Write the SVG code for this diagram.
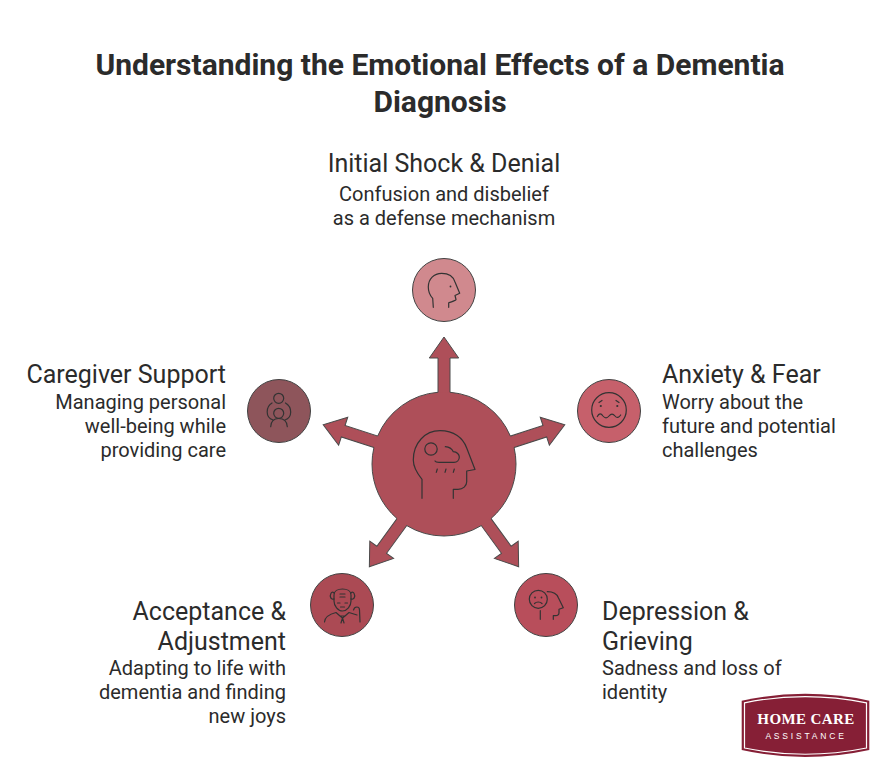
<svg xmlns="http://www.w3.org/2000/svg" width="888" height="777" viewBox="0 0 888 777">
<style>
text{font-family:Roboto,"Liberation Sans",sans-serif;fill:#2b2b2b}
.t{font-size:30px;font-weight:700;text-anchor:middle}
.h{font-size:25px}
.b{font-size:20px}
.m{text-anchor:middle}
.e{text-anchor:end}
.d{stroke:#424242;stroke-width:1}
.i{fill:none;stroke:#333;stroke-width:1.2;stroke-linecap:round;stroke-linejoin:round}
.a{fill:#ae4f59;stroke:#4a4a4a;stroke-width:1}
</style>
<defs><path id="arrow" d="M-6-66V-106H-14.7L0-127 14.7-106H6V-66Z"/></defs>
<rect width="888" height="777" fill="#fff"/>
<text class="t" x="440" y="75">Understanding the Emotional Effects of a Dementia</text>
<text class="t" x="440" y="112">Diagnosis</text>
<g id="connectors">
<use href="#arrow" class="a" transform="translate(444 464)"/>
<use href="#arrow" class="a" transform="translate(444 464) rotate(72)"/>
<use href="#arrow" class="a" transform="translate(444 464) rotate(144)"/>
<use href="#arrow" class="a" transform="translate(444 464) rotate(216)"/>
<use href="#arrow" class="a" transform="translate(444 464) rotate(288)"/>
</g>
<g id="center">
<circle cx="444" cy="464" r="72" fill="#ae4f59"/>
<circle cx="444" cy="464" r="72" fill="none" stroke="#4a4a4a" pathLength="360" stroke-dasharray="62.44 9.56" stroke-dashoffset="85.22"/>
<path class="i" d="M422 498.3V479.3C416 472 413.3 467 413.3 460C413.3 443 425 430.7 440 430.7C454 430.7 463 438 466.7 448L475 469.5L466.7 471V481.7C466.7 486 463 489.3 458 489.3H453.3V498.3"/>
<circle class="i" cx="431" cy="449" r="6.2"/>
<path class="i" d="M445.3 446.7C449 447 452 449 453.3 451.7C457 452 459.3 454.5 459.3 457C459.3 460 457 462.3 454 462.3H439C437 462.3 435.5 462 435 461"/>
<path class="i" d="M437.3 469L436.3 472.3M446 469L445 472.3M454.3 469L453.3 472.3"/>
</g>
<g id="node-shock">
<circle class="d" cx="444" cy="290" r="31.5" fill="#d0898e"/>
<path class="i" d="M433.3 307.3L432.7 298.3C429.5 295 428.3 291 428.3 287C428.3 279 434 273.3 441.7 273.3C449 273.3 453.5 277 455 282L459.7 293.3L455 295.5L456 299.5C455.5 301 452 301.5 448.7 302.7V307.3"/>
<circle cx="450.5" cy="286.5" r=".9" fill="#333"/>
<text class="h m" x="444" y="172">Initial Shock &amp; Denial</text>
<text class="b m" x="444" y="201">Confusion and disbelief</text>
<text class="b m" x="444" y="225">as a defense mechanism</text>
</g>
<g id="node-anxiety">
<circle class="d" cx="609" cy="411" r="31.5" fill="#c6606b"/>
<circle class="i" cx="609" cy="410" r="17.3"/>
<circle cx="600.8" cy="406" r="1.1" fill="#333"/>
<circle cx="617.3" cy="406" r="1.1" fill="#333"/>
<path class="i" d="M599 402.5L602 400.5M619 402.5L616 400.5"/>
<path class="i" d="M597.3 416.5C599 413 601 413 603 416C605 418.5 607 418.5 609 416C611 413.5 613 413.5 615 416C617 418.5 619 417.5 620.7 415"/>
<text class="h" x="662" y="383">Anxiety &amp; Fear</text>
<text class="b" x="662" y="409">Worry about the</text>
<text class="b" x="662" y="433">future and potential</text>
<text class="b" x="662" y="457">challenges</text>
</g>
<g id="node-depression">
<circle class="d" cx="546" cy="605" r="31.5" fill="#b84e5b"/>
<circle class="i" cx="538.3" cy="599.3" r="9"/>
<circle cx="535" cy="597.5" r=".9" fill="#333"/>
<circle cx="541.5" cy="597.5" r=".9" fill="#333"/>
<path class="i" d="M534.5 603.5C536.5 601.5 540 601.5 542 603.5"/>
<path class="i" d="M547.3 591.7C553 591.7 557 594 558.5 598L563.3 607.7L559 609.3V612.5C559 614.5 557.5 615.7 555.5 615.7H553.3V619.3M540.3 610.7V619.3"/>
<text class="h" x="602" y="620">Depression &amp;</text>
<text class="h" x="602" y="650">Grieving</text>
<text class="b" x="602" y="675">Sadness and loss of</text>
<text class="b" x="602" y="699">identity</text>
</g>
<g id="node-acceptance">
<circle class="d" cx="342" cy="605" r="31.5" fill="#ab4a54"/>
<path class="i" d="M334 595C334 591 338 589 342.5 589C347 589 351 591 351 595V601C351 606 347 611 342.5 611C338 611 334 606 334 601Z"/>
<path class="i" d="M334 593C331 590 330 596 330.5 597C331 599 333 599.5 334 599M351 593C354 590 355 596 354.5 597C354 599 352 599.5 351 599"/>
<path class="i" d="M340 594H345M340 597H345M337.5 603H340M345 603H347.5M340.5 607H344.5"/>
<path class="i" d="M324.5 622C325 616 330 614 336 612.5L340 616L345 616L349 612.5L357 615M340 616L342.5 618L345 616M341 623L342.5 618L344 623"/>
<path class="i" d="M360 622L359.5 610C359.5 606 354.5 606 353.5 610"/>
<text class="h e" x="286" y="620">Acceptance &amp;</text>
<text class="h e" x="286" y="650">Adjustment</text>
<text class="b e" x="286" y="675">Adapting to life with</text>
<text class="b e" x="286" y="699">dementia and finding</text>
<text class="b e" x="286" y="723">new joys</text>
</g>
<g id="node-caregiver">
<circle class="d" cx="279" cy="411" r="31.5" fill="#8e555b"/>
<circle class="i" cx="278.7" cy="398.3" r="5"/>
<path class="i" d="M272 403C267 406 267.2 410 267.2 412C267.2 416 270 419 273 420M285.5 403C290.5 406 290.7 410 290.7 412C290.7 416 288 419 285 420"/>
<circle class="i" cx="278.7" cy="413.3" r="5"/>
<path class="i" d="M270.7 426.7C271 421 274 418.5 278.7 418.5C283.5 418.5 287 421 287.3 426.7"/>
<text class="h e" x="226" y="383">Caregiver Support</text>
<text class="b e" x="226" y="409">Managing personal</text>
<text class="b e" x="226" y="433">well-being while</text>
<text class="b e" x="226" y="457">providing care</text>
</g>
<g id="logo">
<path d="M741.7 700.7Q805 687 869.3 700.7V750Q805 764 741.7 750Z" fill="#861f36"/>
<path d="M744.5 702.8Q805 690.5 866.5 702.8V748Q805 760.5 744.5 748Z" fill="none" stroke="#fff" stroke-width="1.2"/>
<text x="806" y="724" text-anchor="middle" style="font-family:'Liberation Serif',serif;font-size:15px;font-weight:700;fill:#fff;letter-spacing:.4px">HOME CARE</text>
<text x="806" y="739" text-anchor="middle" style="font-family:'Liberation Sans',sans-serif;font-size:8.5px;fill:#fff;letter-spacing:2.8px">ASSISTANCE</text>
</g>
</svg>
